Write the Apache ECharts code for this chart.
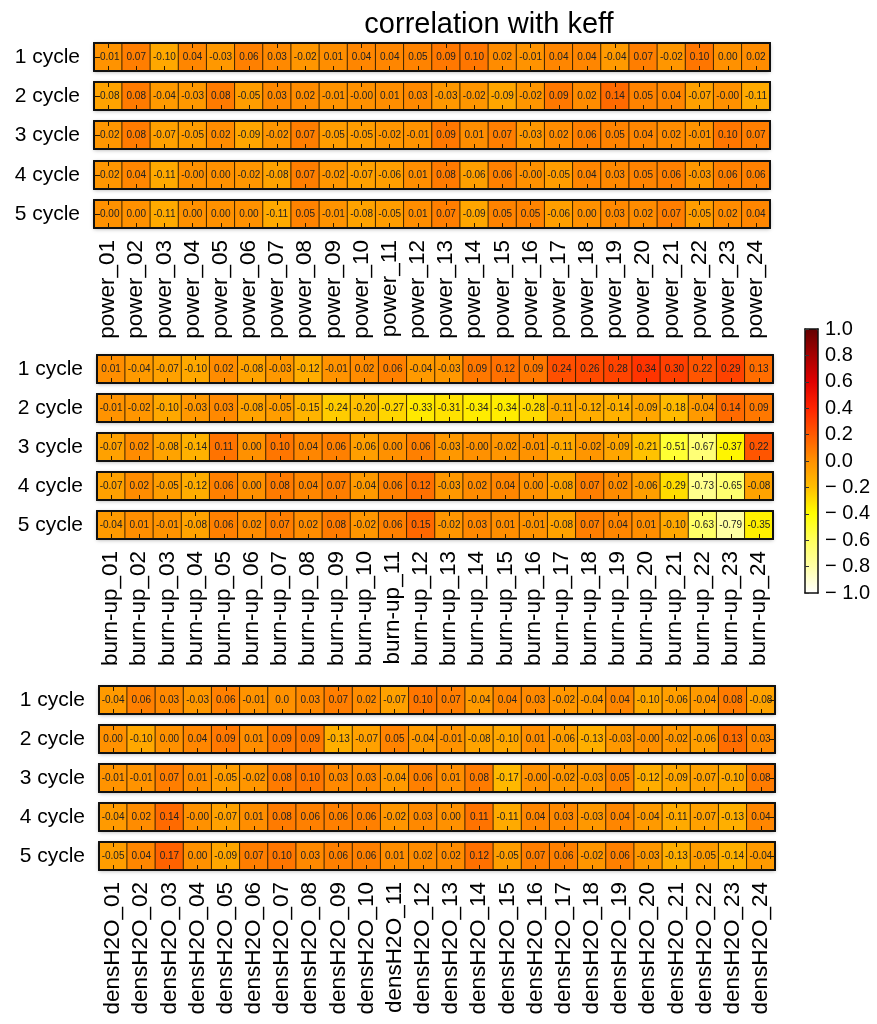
<!DOCTYPE html>
<html>
<head>
<meta charset="utf-8">
<script src="https://cdn.jsdelivr.net/npm/echarts@6/dist/echarts.min.js"></script>
<style>html,body{margin:0;padding:0;background:#fff;}#c{width:877px;height:1024px;}</style>
</head>
<body>
<div id="c"></div>
<script>
const titleText = 'correlation with keff';
const cycles = ['1 cycle', '2 cycle', '3 cycle', '4 cycle', '5 cycle'];
const powerCats = ['power_01','power_02','power_03','power_04','power_05','power_06','power_07','power_08','power_09','power_10','power_11','power_12','power_13','power_14','power_15','power_16','power_17','power_18','power_19','power_20','power_21','power_22','power_23','power_24'];
const burnupCats = ['burn-up_01','burn-up_02','burn-up_03','burn-up_04','burn-up_05','burn-up_06','burn-up_07','burn-up_08','burn-up_09','burn-up_10','burn-up_11','burn-up_12','burn-up_13','burn-up_14','burn-up_15','burn-up_16','burn-up_17','burn-up_18','burn-up_19','burn-up_20','burn-up_21','burn-up_22','burn-up_23','burn-up_24'];
const densCats = ['densH2O_01','densH2O_02','densH2O_03','densH2O_04','densH2O_05','densH2O_06','densH2O_07','densH2O_08','densH2O_09','densH2O_10','densH2O_11','densH2O_12','densH2O_13','densH2O_14','densH2O_15','densH2O_16','densH2O_17','densH2O_18','densH2O_19','densH2O_20','densH2O_21','densH2O_22','densH2O_23','densH2O_24'];

const power = [
  ['-0.01','0.07','-0.10','0.04','-0.03','0.06','0.03','-0.02','0.01','0.04','0.04','0.05','0.09','0.10','0.02','-0.01','0.04','0.04','-0.04','0.07','-0.02','0.10','0.00','0.02'],
  ['-0.08','0.08','-0.04','-0.03','0.08','-0.05','0.03','0.02','-0.01','-0.00','0.01','0.03','-0.03','-0.02','-0.09','-0.02','0.09','0.02','0.14','0.05','0.04','-0.07','-0.00','-0.11'],
  ['-0.02','0.08','-0.07','-0.05','0.02','-0.09','-0.02','0.07','-0.05','-0.05','-0.02','-0.01','0.09','0.01','0.07','-0.03','0.02','0.06','0.05','0.04','0.02','-0.01','0.10','0.07'],
  ['-0.02','0.04','-0.11','-0.00','0.00','-0.02','-0.08','0.07','-0.02','-0.07','-0.06','0.01','0.08','-0.06','0.06','-0.00','-0.05','0.04','0.03','0.05','0.06','-0.03','0.06','0.06'],
  ['-0.00','0.00','-0.11','0.00','0.00','0.00','-0.11','0.05','-0.01','-0.08','-0.05','0.01','0.07','-0.09','0.05','0.05','-0.06','0.00','0.03','0.02','0.07','-0.05','0.02','0.04']
];
const burnup = [
  ['0.01','-0.04','-0.07','-0.10','0.02','-0.08','-0.03','-0.12','-0.01','0.02','0.06','-0.04','-0.03','0.09','0.12','0.09','0.24','0.26','0.28','0.34','0.30','0.22','0.29','0.13'],
  ['-0.01','-0.02','-0.10','-0.03','0.03','-0.08','-0.05','-0.15','-0.24','-0.20','-0.27','-0.33','-0.31','-0.34','-0.34','-0.28','-0.11','-0.12','-0.14','-0.09','-0.18','-0.04','0.14','0.09'],
  ['-0.07','0.02','-0.08','-0.14','0.11','0.00','0.10','0.04','0.06','-0.06','0.00','0.06','-0.03','-0.00','-0.02','-0.01','-0.11','-0.02','-0.09','-0.21','-0.51','-0.67','-0.37','0.22'],
  ['-0.07','0.02','-0.05','-0.12','0.06','0.00','0.08','0.04','0.07','-0.04','0.06','0.12','-0.03','0.02','0.04','0.00','-0.08','0.07','0.02','-0.06','-0.29','-0.73','-0.65','-0.08'],
  ['-0.04','0.01','-0.01','-0.08','0.06','0.02','0.07','0.02','0.08','-0.02','0.06','0.15','-0.02','0.03','0.01','-0.01','-0.08','0.07','0.04','0.01','-0.10','-0.63','-0.79','-0.35']
];
const densH2O = [
  ['-0.04','0.06','0.03','-0.03','0.06','-0.01','0.0','0.03','0.07','0.02','-0.07','0.10','0.07','-0.04','0.04','0.03','-0.02','-0.04','0.04','-0.10','-0.06','-0.04','0.08','-0.08'],
  ['0.00','-0.10','0.00','0.04','0.09','0.01','0.09','0.09','-0.13','-0.07','0.05','-0.04','-0.01','-0.08','-0.10','0.01','-0.06','-0.13','-0.03','-0.00','-0.02','-0.06','0.13','0.03'],
  ['-0.01','-0.01','0.07','0.01','-0.05','-0.02','0.08','0.10','0.03','0.03','-0.04','0.06','0.01','0.08','-0.17','-0.00','-0.02','-0.03','0.05','-0.12','-0.09','-0.07','-0.10','0.08'],
  ['-0.04','0.02','0.14','-0.00','-0.07','0.01','0.08','0.06','0.06','0.06','-0.02','0.03','0.00','0.11','-0.11','0.04','0.03','-0.03','0.04','-0.04','-0.11','-0.07','-0.13','0.04'],
  ['-0.05','0.04','0.17','0.00','-0.09','0.07','0.10','0.03','0.06','0.06','0.01','0.02','0.02','0.12','-0.05','0.07','0.06','-0.02','0.06','-0.03','-0.13','-0.05','-0.14','-0.04']
];
const colorScale = ['#ffffff','#ffffa6','#ffff5c','#ffff00','#ffbf00','#ff9100','#ff5a00','#ff2400','#e00000','#a50000','#640000'];

const FONT = '"Liberation Sans", Arial, Helvetica, sans-serif';
const panels = [
  { cats: powerCats, rows: power, left: 94, tops: [43, 82, 121, 161, 200], leftTick: true, rightTick: false },
  { cats: burnupCats, rows: burnup, left: 97, tops: [355, 394, 433, 472, 511], leftTick: false, rightTick: false },
  { cats: densCats, rows: densH2O, left: 99, tops: [686, 725, 764, 803, 842], leftTick: false, rightTick: true }
];
const W = 676, H = 28;

const grid = [], xAxis = [], yAxis = [], series = [];
const lineStyle = { color: '#111', width: 2 };
const tickStyle = { color: '#2a1a00', width: 1 };
let g = 0;
panels.forEach(p => {
  p.rows.forEach((row, r) => {
    grid.push({ left: p.left, top: p.tops[r], width: W, height: H, show: true, backgroundColor: '#fff', borderWidth: 0,
      shadowBlur: 4, shadowColor: 'rgba(0,0,0,0.35)', shadowOffsetY: 1 });
    xAxis.push({ gridIndex: g, type: 'category', data: p.cats, position: 'bottom', z: 5,
      axisLine: { show: true, lineStyle }, axisTick: { show: true, inside: true, alignWithLabel: true, length: 5, lineStyle: tickStyle },
      axisLabel: { show: r === 4, interval: 0, rotate: 90, margin: 12, fontSize: 22.5, color: '#000', fontFamily: FONT },
      splitLine: { show: false } });
    xAxis.push({ gridIndex: g, type: 'category', data: p.cats, position: 'top', z: 5,
      axisLine: { show: true, lineStyle }, axisTick: { show: true, inside: true, alignWithLabel: true, length: 5, lineStyle: tickStyle },
      axisLabel: { show: false }, splitLine: { show: false } });
    yAxis.push({ gridIndex: g, type: 'category', data: [cycles[r]], position: 'left', z: 5,
      axisLine: { show: true, lineStyle }, axisTick: { show: p.leftTick, inside: true, alignWithLabel: true, length: 6, lineStyle: tickStyle },
      axisLabel: { show: true, margin: 14, fontSize: 21, color: '#000', fontFamily: FONT }, splitLine: { show: false } });
    yAxis.push({ gridIndex: g, type: 'category', data: [cycles[r]], position: 'right', z: 5,
      axisLine: { show: true, lineStyle }, axisTick: { show: p.rightTick, inside: true, alignWithLabel: true, length: 6, lineStyle: tickStyle },
      axisLabel: { show: false }, splitLine: { show: false } });
    series.push({ type: 'heatmap', xAxisIndex: 2 * g, yAxisIndex: 2 * g,
      data: row.map((s, i) => [i, 0, parseFloat(s), s]),
      label: { show: true, formatter: q => q.data[3], fontSize: 10, color: '#222', fontFamily: FONT },
      itemStyle: { borderColor: 'rgba(45,28,0,0.9)', borderWidth: 1 },
      emphasis: { disabled: true } });
    g++;
  });
});

// colorbar axes overlay
const cbLeft = 805, cbTop = 329, cbW = 13, cbH = 264;
grid.push({ left: cbLeft, top: cbTop, width: cbW, height: cbH, show: false });
const cbLine = { color: '#111', width: 1.5 };
xAxis.push({ gridIndex: g, type: 'value', min: 0, max: 1, position: 'bottom', z: 10, axisLine: { show: true, lineStyle: cbLine }, axisTick: { show: false }, axisLabel: { show: false }, splitLine: { show: false } });
xAxis.push({ gridIndex: g, type: 'value', min: 0, max: 1, position: 'top', z: 10, axisLine: { show: true, lineStyle: cbLine }, axisTick: { show: false }, axisLabel: { show: false }, splitLine: { show: false } });
yAxis.push({ gridIndex: g, type: 'value', min: -1, max: 1, interval: 0.2, position: 'left', z: 10,
  axisLine: { show: true, onZero: false, lineStyle: cbLine }, axisTick: { show: true, inside: true, length: 4, lineStyle: { color: '#333', width: 1 } },
  axisLabel: { show: true, inside: true, margin: 20, fontSize: 20, color: '#000', fontFamily: FONT,
    formatter: v => { const r = Math.round(v * 10) / 10; return r < 0 ? '\u2212 ' + Math.abs(r).toFixed(1) : Math.abs(r).toFixed(1); } },
  splitLine: { show: false } });
yAxis.push({ gridIndex: g, type: 'value', min: -1, max: 1, position: 'right', z: 10, axisLine: { show: true, onZero: false, lineStyle: cbLine }, axisTick: { show: false }, axisLabel: { show: false }, splitLine: { show: false } });
xAxis[xAxis.length - 1].axisLine.onZero = false;
xAxis[xAxis.length - 2].axisLine.onZero = false;

const chart = echarts.init(document.getElementById('c'), null, { renderer: 'canvas' });
chart.setOption({
  backgroundColor: '#fff',
  animation: false,
  title: { text: titleText, left: 484, top: 5, textAlign: 'center', textStyle: { fontSize: 29, fontWeight: 'normal', color: '#000', fontFamily: FONT } },
  tooltip: { show: false },
  grid, xAxis, yAxis, series,
  visualMap: { type: 'continuous', min: -1, max: 1, dimension: 2, seriesIndex: series.map((s, i) => i),
    inRange: { color: colorScale }, orient: 'vertical', left: cbLeft, top: cbTop, itemWidth: cbW, itemHeight: cbH,
    padding: 0, calculable: false, hoverLink: false, text: null, indicatorSize: 0 }
});
</script>
</body>
</html>
